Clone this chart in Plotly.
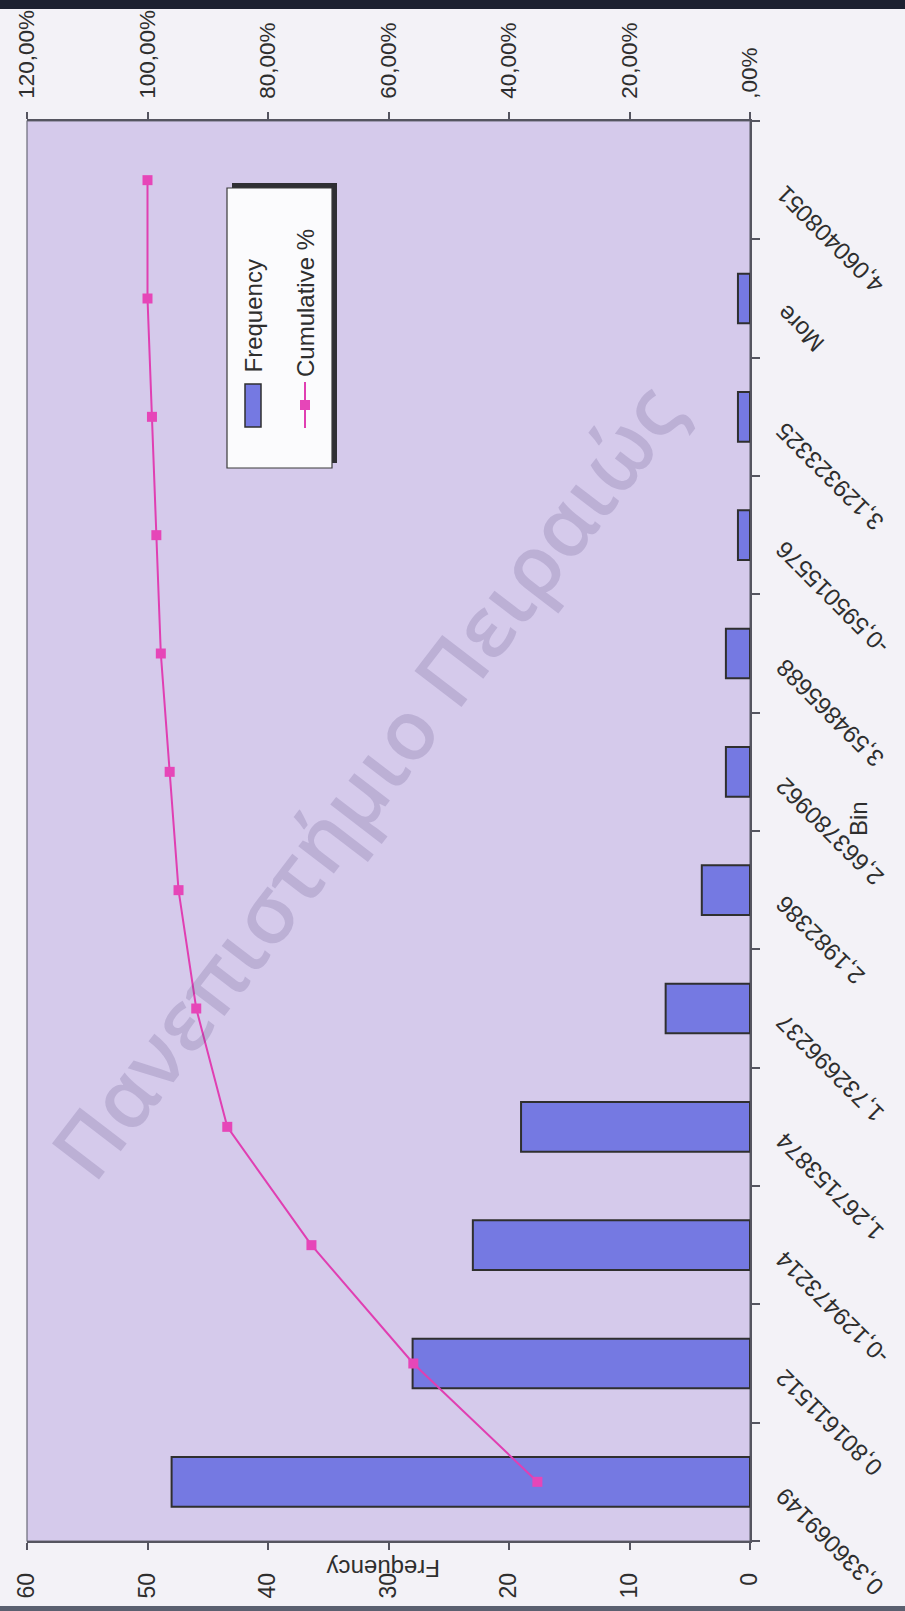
import plotly.graph_objects as go

# Histogram bins (bottom to top along the category axis)
bins = ["0,336069149", "0,801611512", "-0,129473214", "1,267153874",
        "1,732696237", "2,1982386", "2,663780962", "3,594865688",
        "-0,595015576", "3,129323325", "More", "4,060408051"]
frequency = [48, 28, 23, 19, 7, 4, 2, 2, 1, 1, 1, 0]
cumulative = [0.3529, 0.5588, 0.7279, 0.8676, 0.9191, 0.9485,
              0.9632, 0.9779, 0.9853, 0.9926, 1.0, 1.0]

freq_ticks = [0, 10, 20, 30, 40, 50, 60]
pct_ticks = [0, 0.2, 0.4, 0.6, 0.8, 1.0, 1.2]
pct_labels = [",00%", "20,00%", "40,00%", "60,00%", "80,00%", "100,00%", "120,00%"]

W, H = 905, 1611
L, R, T, B = 27, 750, 121, 1541
PW, PH = R - L, B - T


def px(x):
    return (x - L) / PW


def py(y):
    return (B - y) / PH


FONT = "Liberation Sans, Arial, sans-serif"
TXT = "#2e2e2e"
AXC = "#555560"

fig = go.Figure()

# empty bins get no outline so nothing is drawn for them
fig.add_trace(go.Bar(
    y=bins, x=frequency, orientation="h",
    marker=dict(color="#7579E2",
                line=dict(color="#2f2f2f",
                          width=[2 if f > 0 else 0 for f in frequency])),
    xaxis="x", yaxis="y", showlegend=False,
))

fig.add_trace(go.Scatter(
    y=bins, x=cumulative, xaxis="x2", yaxis="y",
    mode="lines+markers",
    line=dict(color="#E03FB2", width=2),
    marker=dict(symbol="square", size=10, color="#E646B8"),
    showlegend=False,
))

axis_common = dict(showgrid=False, zeroline=False, showline=True,
                   automargin=False,
                   linecolor=AXC, linewidth=1.5,
                   tickcolor=AXC, tickwidth=1.5)
inner_ticks = dict(showgrid=False, zeroline=False, showline=False,
                   automargin=False,
                   ticks="inside", ticklen=6, tickcolor=AXC, tickwidth=1.5,
                   showticklabels=False)

fig.update_layout(
    width=W, height=H,
    margin=dict(l=L, r=W - R, t=T, b=H - B, pad=0, autoexpand=False),
    paper_bgcolor="#F3F2F7",
    plot_bgcolor="#D5CAEB",
    bargap=0.58,
    showlegend=False,
    xaxis=dict(range=[60, 0], tickvals=freq_ticks, tickangle=-90,
               ticks="outside", ticklen=7, ticklabelstandoff=14,
               tickfont=dict(family=FONT, size=23, color=TXT),
               **axis_common),
    xaxis2=dict(range=[1.2, 0], tickvals=pct_ticks, ticktext=pct_labels,
                overlaying="x", side="top", anchor="y", tickangle=-90,
                ticks="outside", ticklen=7, ticklabelstandoff=9,
                tickfont=dict(family=FONT, size=22.5, color=TXT),
                **axis_common),
    # inner halves of the crossing tick marks
    xaxis3=dict(range=[60, 0], tickvals=freq_ticks, overlaying="x",
                side="bottom", anchor="y", **inner_ticks),
    xaxis4=dict(range=[1.2, 0], tickvals=pct_ticks, overlaying="x",
                side="top", anchor="y", **inner_ticks),
    yaxis=dict(type="category", side="right", range=[-0.5, 11.5],
               tickson="boundaries", ticks="outside", ticklen=8,
               showticklabels=False, **axis_common),
    yaxis2=dict(range=[-0.5, 11.5], overlaying="y", side="right",
                anchor="x", tickvals=[i - 0.5 for i in range(len(bins) + 1)],
                **inner_ticks),
)

annotations = []

# Category labels, rotated so they read upside down along the diagonal
for b in bins:
    annotations.append(dict(
        text=b, xref="paper", yref="y", x=1, y=b, xshift=18, yshift=2,
        xanchor="left", yanchor="top", textangle=-135, showarrow=False,
        font=dict(family=FONT, size=24, color=TXT),
    ))

# Axis titles
annotations.append(dict(
    text="Bin", xref="paper", yref="paper", x=px(858), y=py(818),
    xanchor="center", yanchor="middle",
    textangle=-90, showarrow=False, font=dict(family=FONT, size=24, color=TXT),
))
annotations.append(dict(
    text="Frequency", xref="paper", yref="paper", x=px(384), y=py(1569),
    xanchor="center", yanchor="middle",
    textangle=180, showarrow=False, font=dict(family=FONT, size=24, color=TXT),
))

# Legend entries
annotations.append(dict(
    text="Frequency", xref="paper", yref="paper", x=px(253), y=py(375),
    xanchor="center", yanchor="bottom", textangle=-90, showarrow=False,
    font=dict(family=FONT, size=24, color=TXT),
))
annotations.append(dict(
    text="Cumulative %", xref="paper", yref="paper", x=px(305), y=py(379),
    xanchor="center", yanchor="bottom", textangle=-90, showarrow=False,
    font=dict(family=FONT, size=24, color=TXT),
))

# Watermark
annotations.append(dict(
    text="Πανεπιστήμιο Πειραιώς", xref="paper", yref="paper",
    x=px(364), y=py(780), xanchor="center", yanchor="middle",
    textangle=-52.5, showarrow=False,
    font=dict(family="Open Sans, Noto Sans, sans-serif", size=83, weight=600,
              color="rgba(80,65,120,0.19)"),
))

shapes = [
    # plot area border
    dict(type="rect", xref="paper", yref="paper", x0=0, x1=1, y0=0, y1=1,
         line=dict(color="#6a6a78", width=1.2), layer="below"),
    # legend shadow and box
    dict(type="rect", xref="paper", yref="paper",
         x0=px(232), x1=px(337), y0=py(463), y1=py(183),
         fillcolor="#2f2f33", line=dict(width=0)),
    dict(type="rect", xref="paper", yref="paper",
         x0=px(227), x1=px(332), y0=py(468), y1=py(188),
         fillcolor="#FBFBFD", line=dict(color="#3a3a3a", width=1.2)),
    # legend swatch: bars
    dict(type="rect", xref="paper", yref="paper",
         x0=px(245), x1=px(261), y0=py(427), y1=py(384),
         fillcolor="#7579E2", line=dict(color="#2f2f2f", width=1.5)),
    # legend swatch: line with marker
    dict(type="line", xref="paper", yref="paper",
         x0=px(305), x1=px(305), y0=py(428), y1=py(382),
         line=dict(color="#E03FB2", width=2)),
    dict(type="rect", xref="paper", yref="paper",
         x0=px(300), x1=px(310), y0=py(410), y1=py(400),
         fillcolor="#E646B8", line=dict(width=0)),
    # dark scan edges
    dict(type="rect", xref="paper", yref="paper",
         x0=px(0), x1=px(905), y0=py(9), y1=py(0),
         fillcolor="#1c2030", line=dict(width=0)),
    dict(type="rect", xref="paper", yref="paper",
         x0=px(0), x1=px(905), y0=py(1611), y1=py(1606),
         fillcolor="#5a6070", line=dict(width=0)),
]

fig.update_layout(annotations=annotations, shapes=shapes)

fig.write_html("out.html")
